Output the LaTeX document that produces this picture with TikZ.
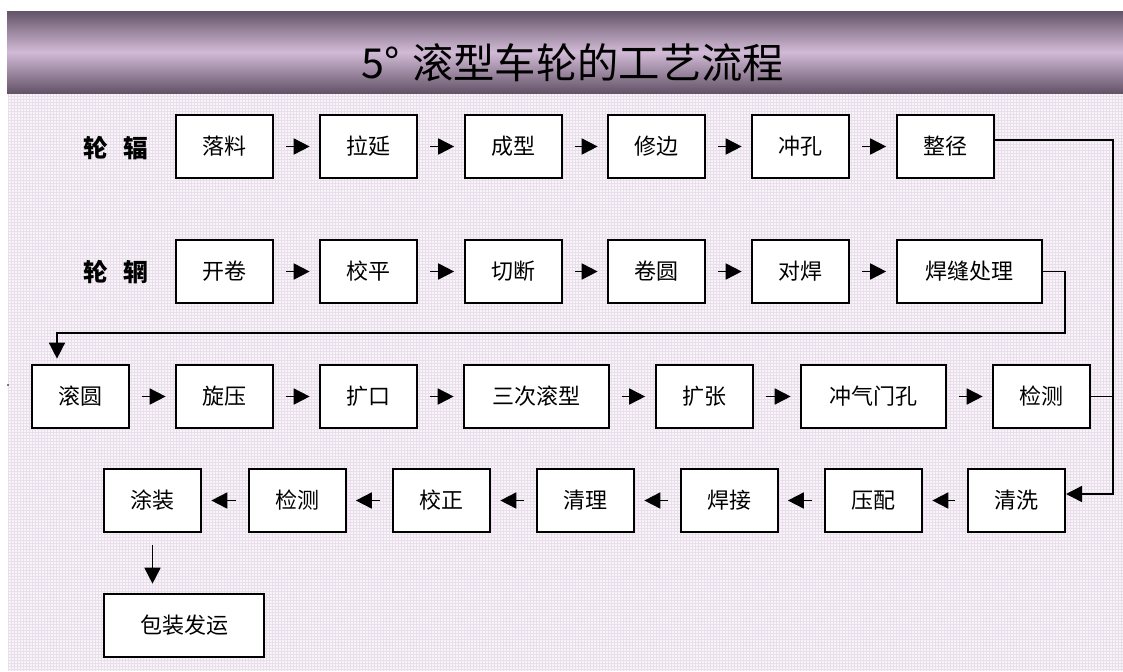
\documentclass[tikz,border=0pt]{standalone}
\usepackage{fontspec}
\setmainfont{Liberation Serif}
\newfontfamily\cjk{Noto Sans CJK SC}
\usetikzlibrary{arrows.meta,calc}
\definecolor{banddark}{RGB}{100,84,104}
\definecolor{bandlight}{RGB}{210,186,214}
\definecolor{gridbg}{RGB}{248,244,248}
\definecolor{gridline}{RGB}{233,222,235}
\begin{document}
\begin{tikzpicture}[x=0.75pt,y=-0.75pt,
  stepbox/.style={draw, line width=1.5pt, fill=white, inner sep=0pt,
    minimum width=72.75pt, minimum height=47.25pt,
    font=\cjk\fontsize{16.5pt}{19pt}\selectfont},
  widebox/.style={stepbox, minimum width=108.75pt},
  rowlabel/.style={inner sep=0pt, font=\cjk\bfseries\fontsize{18.5pt}{20pt}\selectfont},
  flow/.style={line width=1.3pt, -{Triangle[length=12pt,width=12pt]},
    shorten <=9pt, shorten >=7pt},
  conn/.style={line width=1.1pt},
  connarrow/.style={conn, -{Triangle[length=12pt,width=12pt]}}]
\useasboundingbox (0,0) rectangle (1123,671);
\fill[white] (0,0) rectangle (1123,671);
% background grid
\fill[gridbg] (8,93) rectangle (1123,671);
\foreach \x in {8,11,...,1123} \draw[gridline, line width=0.25pt] (\x,93) -- (\x,671);
\foreach \y in {93,96,...,671} \draw[gridline, line width=0.25pt] (8,\y) -- (1123,\y);
% title band
\shade[top color=banddark, bottom color=banddark, middle color=bandlight] (7,11) rectangle (1123,93);
\node[inner sep=0pt, font=\cjk\fontsize{31pt}{34pt}\selectfont] (title) at (573,63) {5°\hspace{0.3em}滚型车轮的工艺流程};
\fill (8,385) circle (0.9);
% row labels
\node[rowlabel] (lab1) at (116,148) {轮\hspace{0.6em}辐};
\node[rowlabel] (lab2) at (116,272) {轮\hspace{0.6em}辋};
% row 1
\node[stepbox] (n11) at (224.5,146.5) {落料};
\node[stepbox] (n12) at (368.5,146.5) {拉延};
\node[stepbox] (n13) at (513,146.5) {成型};
\node[stepbox] (n14) at (656.5,146.5) {修边};
\node[stepbox] (n15) at (800.5,146.5) {冲孔};
\node[stepbox] (n16) at (945,146.5) {整径};
% row 2
\node[stepbox] (n21) at (224.5,271.5) {开卷};
\node[stepbox] (n22) at (368.5,271.5) {校平};
\node[stepbox] (n23) at (513,271.5) {切断};
\node[stepbox] (n24) at (656.5,271.5) {卷圆};
\node[stepbox] (n25) at (800.5,271.5) {对焊};
\node[widebox] (n26) at (969,271.5) {焊缝处理};
% row 3
\node[stepbox] (n31) at (80.5,396.5) {滚圆};
\node[stepbox] (n32) at (224.5,396.5) {旋压};
\node[stepbox] (n33) at (368.5,396.5) {扩口};
\node[widebox] (n34) at (536.5,396.5) {三次滚型};
\node[stepbox] (n35) at (704,396.5) {扩张};
\node[widebox] (n36) at (873.5,396.5) {冲气门孔};
\node[stepbox] (n37) at (1041.5,396.5) {检测};
% row 4
\node[stepbox] (n41) at (152.5,500.5) {涂装};
\node[stepbox] (n42) at (297,500.5) {检测};
\node[stepbox] (n43) at (441.5,500.5) {校正};
\node[stepbox] (n44) at (585.5,500.5) {清理};
\node[stepbox] (n45) at (729,500.5) {焊接};
\node[stepbox] (n46) at (873.5,500.5) {压配};
\node[stepbox] (n47) at (1016.5,500.5) {清洗};
% row 5
\node[stepbox, minimum width=120pt] (n51) at (184,625.5) {包装发运};
% flows
\foreach \a/\b in {n11/n12,n12/n13,n13/n14,n14/n15,n15/n16,
                   n21/n22,n22/n23,n23/n24,n24/n25,n25/n26,
                   n31/n32,n32/n33,n33/n34,n34/n35,n35/n36,n36/n37,
                   n47/n46,n46/n45,n45/n44,n44/n43,n43/n42,n42/n41}
  \draw[flow] (\a) -- (\b);
\draw[flow] (n41.south) -- (n41.south |- n51.north);
% long connectors
\coordinate (xr) at (1113,140);
\coordinate (c1) at (1065,333);
\coordinate (c2) at (57,333);
\draw[connarrow] ($(n16.east)+(0,-6.5)$) -- (xr) |- ($(n47.east)+(0,-6.5)$);
\draw[conn] (n37.east) -- (n37.east -| xr);
\draw[connarrow, shorten >=4pt] (n26.east) -| (c1) -- (c2) -- (c2 |- n31.north);
\end{tikzpicture}
\end{document}
